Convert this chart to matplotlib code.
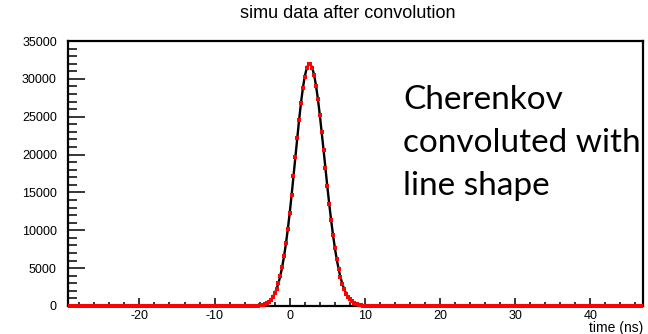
import matplotlib.pyplot as plt
import numpy as np
from matplotlib.ticker import MultipleLocator

# histogram binning (0.25 ns bins)
bin_width = 0.25
time = np.arange(-29.25, 47.0, bin_width)

peak_start = -5.0
peak_counts = [10, 17, 28, 46, 73, 115, 177, 269, 400, 585,
               842, 1190, 1654, 2259, 3030, 3997, 5185, 6610, 8270, 10190,
               12320, 14650, 17120, 19660, 22200, 24630, 26850, 28780, 30310, 31380,
               31930, 31940, 31440, 30480, 29080, 27320, 25260, 23000, 20620, 18200,
               15810, 13520, 11390, 9440, 7710, 6190, 4900, 3810, 2920, 2210,
               1640, 1200, 866, 613, 428, 294, 199, 133, 87, 56,
               36, 24, 16, 11, 7]

counts = np.zeros(len(time))
i0 = np.searchsorted(time, peak_start)
counts[i0:i0 + len(peak_counts)] = peak_counts

title = "simu data after convolution"
xlabel = "time (ns)"
note_lines = ["Cherenkov", "convoluted with", "line shape"]

plt.rcParams['font.family'] = ['Liberation Sans', 'DejaVu Sans']
plt.rcParams['axes.unicode_minus'] = False

fig = plt.figure(figsize=(6.48, 3.34), dpi=100)
W, H = 648, 334
ax = fig.add_axes([68 / W, 1 - 306 / H, (643 - 68) / W, (306 - 41) / H])

ax.plot(time, counts, color='black', lw=1.7, zorder=3)
ax.plot(time, counts, 's', color='red', ms=3.2, mew=0, clip_on=False, zorder=4)

ax.set_xlim(-29.5, 47)
ax.set_ylim(0, 35000)

ax.xaxis.set_major_locator(MultipleLocator(10))
ax.xaxis.set_minor_locator(MultipleLocator(2))
ax.yaxis.set_major_locator(MultipleLocator(5000))
ax.yaxis.set_minor_locator(MultipleLocator(1000))

ax.tick_params(axis='both', which='both', direction='in', top=False, right=False,
               width=1.1, labelsize=9)
ax.tick_params(axis='y', which='major', length=12.5, pad=8)
ax.tick_params(axis='y', which='minor', length=6.5)
ax.tick_params(axis='x', which='major', length=6, pad=3)
ax.tick_params(axis='x', which='minor', length=3)

for s in ax.spines.values():
    s.set_linewidth(1.6)

ax.set_xlabel(xlabel, loc='right', fontsize=10, labelpad=-1)

fig.text(348 / W, 1 - 13 / H, title, ha='center', va='center', fontsize=13)

for k, line in enumerate(note_lines):
    fig.text(403 / W, 1 - (109 + 43 * k) / H, line, fontfamily='Lato',
             fontsize=24, va='baseline', ha='left')

fig.savefig('out.png', dpi=100)
